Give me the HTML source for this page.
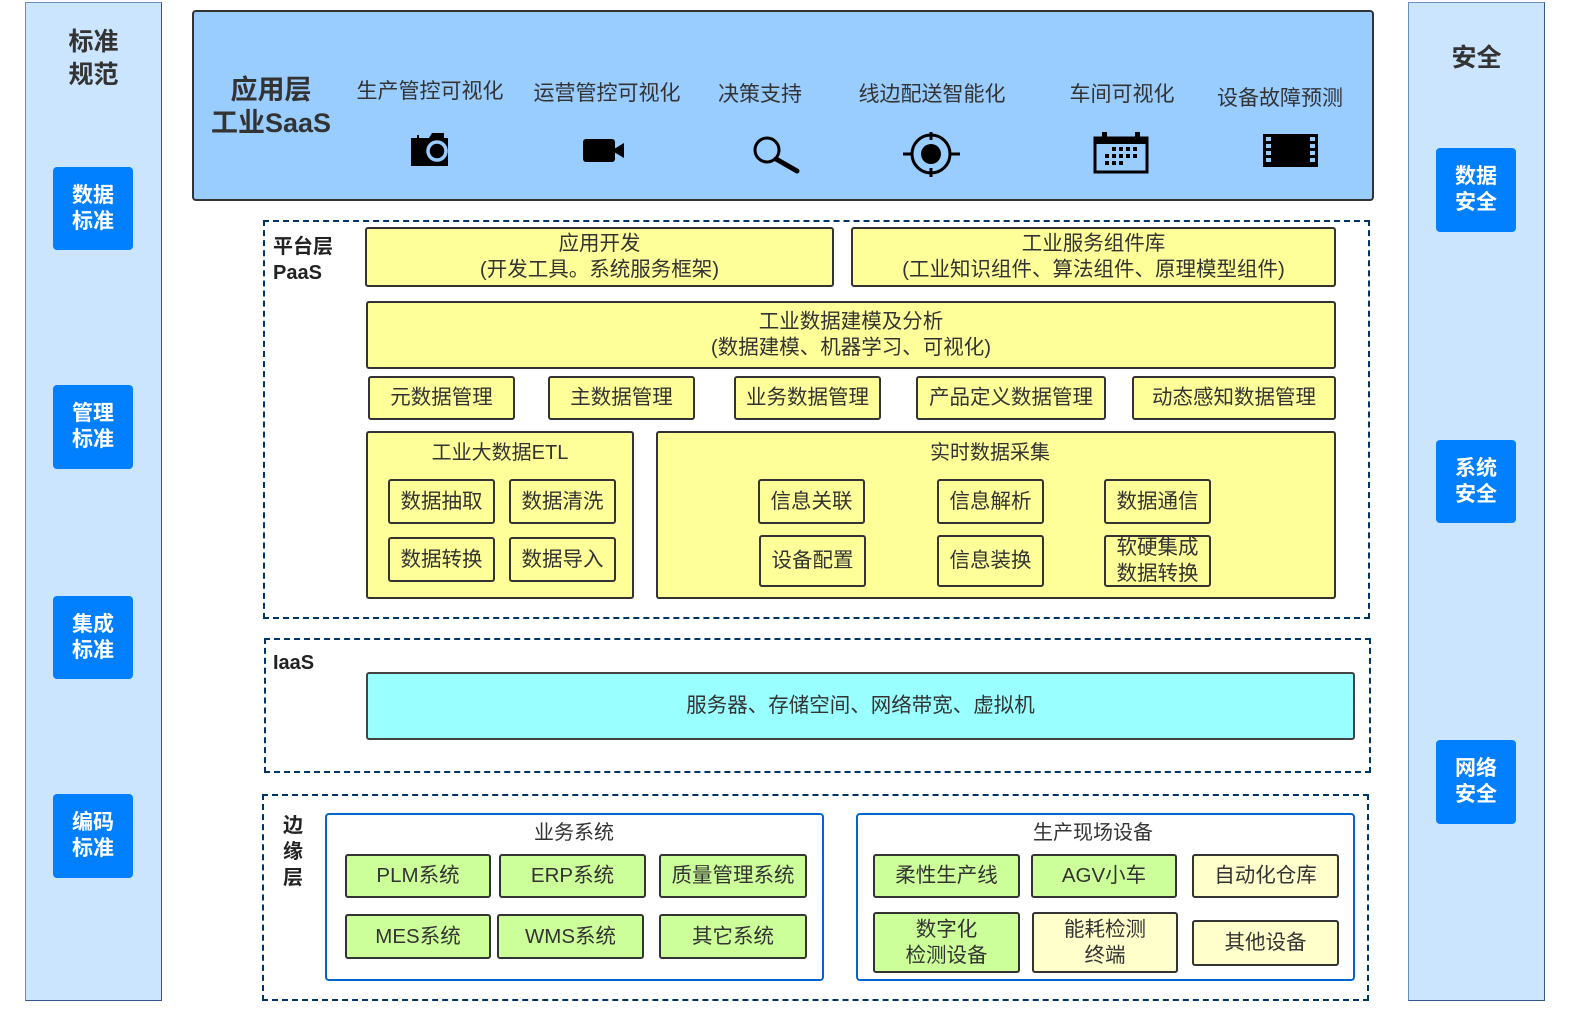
<!DOCTYPE html>
<html><head><meta charset="utf-8">
<style>
*{margin:0;padding:0;box-sizing:border-box}
html,body{width:1579px;height:1009px;overflow:hidden}
body{background:#fff;position:relative;font-family:"Liberation Sans","Noto Sans CJK SC",sans-serif;color:#333}
.a{position:absolute}
.side{position:absolute;background:#cce5ff;border:1.5px solid #36598c;border-left-color:#6c8ebf;border-top-color:#6c8ebf}
.bt{position:absolute;background:#007fff;border-radius:4px;color:#fff;font-weight:bold;font-size:21px;line-height:26px;display:flex;align-items:center;justify-content:center;text-align:center}
.y{position:absolute;background:#ffff99;border:2px solid #333;border-radius:3px;font-size:20.5px;line-height:26px;display:flex;align-items:center;justify-content:center;text-align:center;white-space:nowrap}
.g{background:#ccff99}
.ly{background:#ffffcc}
.dash{position:absolute;border:2px dashed #003366}
.lbl{position:absolute;font-weight:bold;font-size:20px;line-height:26px;color:#222}
.t{position:absolute;font-size:21px;white-space:nowrap;transform:translateX(-50%);line-height:26px}
.blue{position:absolute;border:2px solid #0066cc;border-radius:4px;background:#fff}
</style></head><body>

<div class="side" style="left:25px;top:2px;width:137px;height:999px"></div>
<div class="a" style="left:25px;top:26px;width:137px;text-align:center;font-weight:bold;font-size:25px;line-height:33px">标准<br>规范</div>
<div class="bt" style="left:53px;top:167px;width:80px;height:83px">数据<br>标准</div>
<div class="bt" style="left:53px;top:385px;width:80px;height:84px">管理<br>标准</div>
<div class="bt" style="left:53px;top:596px;width:80px;height:83px">集成<br>标准</div>
<div class="bt" style="left:53px;top:794px;width:80px;height:84px">编码<br>标准</div>

<div class="side" style="left:1408px;top:2px;width:137px;height:999px"></div>
<div class="a" style="left:1408px;top:42px;width:137px;text-align:center;font-weight:bold;font-size:25px;line-height:33px">安全</div>
<div class="bt" style="left:1436px;top:148px;width:80px;height:84px">数据<br>安全</div>
<div class="bt" style="left:1436px;top:440px;width:80px;height:83px">系统<br>安全</div>
<div class="bt" style="left:1436px;top:740px;width:80px;height:84px">网络<br>安全</div>

<!-- app layer -->
<div class="a" style="left:192px;top:10px;width:1182px;height:191px;background:#99ccff;border:2px solid #333;border-radius:4px"></div>
<div class="a" style="left:196px;top:74px;width:150px;text-align:center;font-weight:bold;font-size:27px;line-height:33px;color:#333">应用层<br>工业SaaS</div>
<div class="t" style="left:430px;top:79px">生产管控可视化</div>
<div class="t" style="left:607px;top:81px">运营管控可视化</div>
<div class="t" style="left:760px;top:82px">决策支持</div>
<div class="t" style="left:932px;top:82px">线边配送智能化</div>
<div class="t" style="left:1122px;top:82px">车间可视化</div>
<div class="t" style="left:1280px;top:86px">设备故障预测</div>
<svg class="a" style="left:0;top:0" width="1579" height="210">
 <path d="M411 138 h6 v-3 h2 v3 h10 l3 -5 h12 v5 h4 v28 h-37z" fill="#000"/>
 <circle cx="437" cy="151" r="9" fill="none" stroke="#99ccff" stroke-width="3.5"/>
 <rect x="583" y="139" width="32" height="23" rx="3" fill="#000"/>
 <path d="M614 149 l10 -6 v15 l-10 -6z" fill="#000"/>
 <circle cx="767" cy="150" r="12" fill="none" stroke="#000" stroke-width="3"/>
 <line x1="776" y1="159" x2="797" y2="171" stroke="#000" stroke-width="5" stroke-linecap="round"/>
 <circle cx="931" cy="154" r="19" fill="none" stroke="#000" stroke-width="3"/>
 <circle cx="931" cy="154" r="10" fill="#000"/>
 <line x1="931" y1="132" x2="931" y2="140" stroke="#000" stroke-width="3"/>
 <line x1="931" y1="168" x2="931" y2="177" stroke="#000" stroke-width="3"/>
 <line x1="903" y1="154" x2="913" y2="154" stroke="#000" stroke-width="3"/>
 <line x1="949" y1="154" x2="960" y2="154" stroke="#000" stroke-width="3"/>
 <rect x="1095" y="138" width="52" height="34" fill="none" stroke="#000" stroke-width="3"/>
 <rect x="1095" y="138" width="52" height="6" fill="#000"/>
 <rect x="1102" y="132" width="5" height="10" fill="#000"/>
 <rect x="1135" y="132" width="5" height="10" fill="#000"/>
 <g fill="#000">
  <rect x="1112" y="147" width="4" height="4"/><rect x="1119" y="147" width="4" height="4"/><rect x="1126" y="147" width="4" height="4"/><rect x="1133" y="147" width="4" height="4"/>
  <rect x="1105" y="154" width="4" height="4"/><rect x="1112" y="154" width="4" height="4"/><rect x="1119" y="154" width="4" height="4"/><rect x="1126" y="154" width="4" height="4"/><rect x="1133" y="154" width="4" height="4"/>
  <rect x="1105" y="161" width="4" height="4"/><rect x="1112" y="161" width="4" height="4"/><rect x="1119" y="161" width="4" height="4"/>
 </g>
 <rect x="1263" y="134" width="55" height="33" fill="#000"/>
 <g fill="#99ccff">
  <rect x="1266" y="137" width="5" height="4"/><rect x="1266" y="144" width="5" height="4"/><rect x="1266" y="151" width="5" height="4"/><rect x="1266" y="158" width="5" height="4"/>
  <rect x="1310" y="137" width="5" height="4"/><rect x="1310" y="144" width="5" height="4"/><rect x="1310" y="151" width="5" height="4"/><rect x="1310" y="158" width="5" height="4"/>
 </g>
</svg>

<!-- PaaS -->
<div class="dash" style="left:263px;top:220px;width:1107px;height:399px"></div>
<div class="lbl" style="left:273px;top:234px">平台层<br>PaaS</div>
<div class="y" style="left:365px;top:227px;width:469px;height:60px">应用开发<br>(开发工具。系统服务框架)</div>
<div class="y" style="left:851px;top:227px;width:485px;height:60px">工业服务组件库<br>(工业知识组件、算法组件、原理模型组件)</div>
<div class="y" style="left:366px;top:301px;width:970px;height:68px">工业数据建模及分析<br>(数据建模、机器学习、可视化)</div>
<div class="y" style="left:368px;top:376px;width:147px;height:44px">元数据管理</div>
<div class="y" style="left:548px;top:376px;width:147px;height:44px">主数据管理</div>
<div class="y" style="left:734px;top:376px;width:147px;height:44px">业务数据管理</div>
<div class="y" style="left:916px;top:376px;width:190px;height:44px">产品定义数据管理</div>
<div class="y" style="left:1132px;top:376px;width:204px;height:44px">动态感知数据管理</div>

<div class="y" style="left:366px;top:431px;width:268px;height:168px"></div>
<div class="t" style="left:500px;top:440px;font-size:20px">工业大数据ETL</div>
<div class="y" style="left:388px;top:479px;width:107px;height:45px">数据抽取</div>
<div class="y" style="left:509px;top:479px;width:107px;height:45px">数据清洗</div>
<div class="y" style="left:388px;top:537px;width:107px;height:45px">数据转换</div>
<div class="y" style="left:509px;top:537px;width:107px;height:45px">数据导入</div>

<div class="y" style="left:656px;top:431px;width:680px;height:168px"></div>
<div class="t" style="left:990px;top:440px;font-size:20px">实时数据采集</div>
<div class="y" style="left:758px;top:479px;width:107px;height:45px">信息关联</div>
<div class="y" style="left:937px;top:479px;width:107px;height:45px">信息解析</div>
<div class="y" style="left:1104px;top:479px;width:107px;height:45px">数据通信</div>
<div class="y" style="left:759px;top:535px;width:107px;height:52px">设备配置</div>
<div class="y" style="left:937px;top:535px;width:107px;height:52px">信息装换</div>
<div class="y" style="left:1104px;top:535px;width:107px;height:52px">软硬集成<br>数据转换</div>

<!-- IaaS -->
<div class="dash" style="left:264px;top:638px;width:1107px;height:135px"></div>
<div class="lbl" style="left:273px;top:650px">IaaS</div>
<div class="y" style="left:366px;top:672px;width:989px;height:68px;background:#99ffff;border-color:#444">服务器、存储空间、网络带宽、虚拟机</div>

<!-- Edge -->
<div class="dash" style="left:262px;top:794px;width:1107px;height:207px"></div>
<div class="lbl" style="left:283px;top:813px;line-height:26px">边<br>缘<br>层</div>
<div class="blue" style="left:325px;top:813px;width:499px;height:168px"></div>
<div class="t" style="left:574px;top:820px;font-size:20px">业务系统</div>
<div class="y g" style="left:345px;top:854px;width:146px;height:44px">PLM系统</div>
<div class="y g" style="left:499px;top:854px;width:147px;height:44px">ERP系统</div>
<div class="y g" style="left:659px;top:854px;width:148px;height:44px">质量管理系统</div>
<div class="y g" style="left:345px;top:914px;width:146px;height:45px">MES系统</div>
<div class="y g" style="left:497px;top:914px;width:147px;height:45px">WMS系统</div>
<div class="y g" style="left:659px;top:914px;width:148px;height:45px">其它系统</div>

<div class="blue" style="left:856px;top:813px;width:499px;height:168px"></div>
<div class="t" style="left:1093px;top:820px;font-size:20px">生产现场设备</div>
<div class="y g" style="left:873px;top:854px;width:147px;height:44px">柔性生产线</div>
<div class="y g" style="left:1031px;top:854px;width:146px;height:44px">AGV小车</div>
<div class="y ly" style="left:1192px;top:854px;width:147px;height:44px">自动化仓库</div>
<div class="y g" style="left:873px;top:912px;width:147px;height:61px">数字化<br>检测设备</div>
<div class="y ly" style="left:1032px;top:912px;width:146px;height:61px">能耗检测<br>终端</div>
<div class="y ly" style="left:1192px;top:920px;width:147px;height:46px">其他设备</div>

</body></html>
